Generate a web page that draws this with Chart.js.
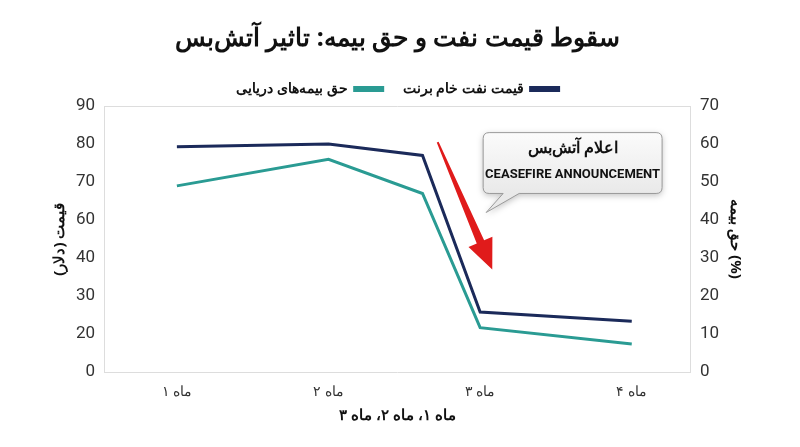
<!DOCTYPE html><html><head><meta charset="utf-8">
<script src="https://cdn.jsdelivr.net/npm/chart.js@4"></script>
<style>body{margin:0;background:#fff}#w{width:800px;height:447px}</style></head><body><div id="w"><canvas id="c"></canvas></div>
<script>
const catPos=[1,2,3,4];
const catLabels=['ماه ۱','ماه ۲','ماه ۳','ماه ۴'];
const xPts=[1,2,2.62,3,4];
const oilPrice=[79.3,80,77,25.8,23.4];
const insurance=[49,56,47,11.7,7.4];
const leftTickLabels=[0,20,30,40,60,70,80,90];
const rightTicks=[0,10,20,30,40,50,60,70];
// left axis labels sit on the same evenly spaced gridlines as the right axis
function leftToPos(v){for(let i=0;i<leftTickLabels.length-1;i++){const a=leftTickLabels[i],b=leftTickLabels[i+1];if(v<=b)return rightTicks[i]+(v-a)/(b-a)*10;}return 70;}
const F="'Liberation Sans Narrow','Roboto',sans-serif";
const callout={id:'callout',afterDatasetsDraw(ch){const c=ch.ctx,x=ch.scales.x,y=ch.scales.y2;c.save();
const x1=x.getPixelForValue(2.72),y1=y.getPixelForValue(60.5),x2=x.getPixelForValue(3.08),y2=y.getPixelForValue(27);
const ang=Math.atan2(y2-y1,x2-x1),n=ang+Math.PI/2;
c.fillStyle='#e01b1b';c.beginPath();
c.moveTo(x1+Math.cos(n)*1,y1+Math.sin(n)*1);c.lineTo(x1-Math.cos(n)*1,y1-Math.sin(n)*1);
const bx=x2-Math.cos(ang)*30,by=y2-Math.sin(ang)*30;
c.lineTo(bx-Math.cos(n)*4,by-Math.sin(n)*4);c.lineTo(bx-Math.cos(n)*13,by-Math.sin(n)*13);c.lineTo(x2,y2);
c.lineTo(bx+Math.cos(n)*13,by+Math.sin(n)*13);c.lineTo(bx+Math.cos(n)*4,by+Math.sin(n)*4);c.closePath();c.fill();
const L=x.getPixelForValue(3.02),R=x.getPixelForValue(4.2),T=y.getPixelForValue(63),B=y.getPixelForValue(47);
c.shadowColor='rgba(0,0,0,0.25)';c.shadowBlur=6;c.shadowOffsetY=2;
const g=c.createLinearGradient(0,T,0,B);g.addColorStop(0,'#fbfbfb');g.addColorStop(1,'#e9e9e9');c.fillStyle=g;c.strokeStyle='#9a9a9a';c.lineWidth=1;
c.beginPath();c.moveTo(L+6,T);c.lineTo(R-6,T);c.quadraticCurveTo(R,T,R,T+6);c.lineTo(R,B-6);c.quadraticCurveTo(R,B,R-6,B);
c.lineTo(L+36,B);c.lineTo(x.getPixelForValue(3.04),y.getPixelForValue(42));c.lineTo(L+20,B);c.lineTo(L+6,B);c.quadraticCurveTo(L,B,L,B-6);c.lineTo(L,T+6);c.quadraticCurveTo(L,T,L+6,T);c.closePath();c.fill();c.shadowColor='transparent';c.stroke();
c.fillStyle='#111';c.textAlign='center';c.textBaseline='middle';c.font="bold 16px 'Noto Sans',sans-serif";c.fillText('اعلام آتش‌بس',(L+R)/2,T+16);
c.font="bold 13px "+F;c.fillText('CEASEFIRE ANNOUNCEMENT',(L+R)/2,T+42);c.restore();}};
new Chart(document.getElementById('c'),{type:'line',
data:{datasets:[
{label:'قیمت نفت خام برنت',data:xPts.map((v,i)=>({x:v,y:leftToPos(oilPrice[i])})),borderColor:'#1b2a5a',backgroundColor:'#1b2a5a',borderWidth:3,pointRadius:0,yAxisID:'y'},
{label:'حق بیمه‌های دریایی',data:xPts.map((v,i)=>({x:v,y:insurance[i]})),borderColor:'#2a9b93',backgroundColor:'#2a9b93',borderWidth:3,pointRadius:0,yAxisID:'y2'}]},
options:{responsive:true,maintainAspectRatio:false,animation:false,layout:{padding:{left:47,right:52,top:0,bottom:18}},
plugins:{title:{display:true,text:'سقوط قیمت نفت و حق بیمه: تاثیر آتش‌بس',font:{family:"'Noto Sans',sans-serif",size:25,weight:'bold'},color:'#111',padding:{top:24,bottom:8}},
legend:{rtl:true,labels:{boxWidth:28,boxHeight:3,color:'#111',font:{family:"'Noto Sans',sans-serif",size:14,weight:'bold'},padding:20}},tooltip:{enabled:false}},
scales:{x:{type:'linear',min:0.52,max:4.39,afterBuildTicks:a=>{a.ticks=catPos.map(v=>({value:v}))},grid:{display:false,drawTicks:true},border:{color:'#ddd'},
ticks:{callback:v=>catLabels[catPos.indexOf(v)],color:'#333',font:{family:"'Noto Sans',sans-serif",size:14}},
title:{display:true,text:'ماه ۱، ماه ۲، ماه ۳',color:'#111',font:{family:"'Noto Sans',sans-serif",size:15,weight:'bold'}}},
y:{position:'left',min:0,max:70,afterBuildTicks:a=>{a.ticks=rightTicks.map(v=>({value:v}))},grid:{display:false,tickLength:6},border:{color:'#ddd'},
ticks:{callback:(v)=>leftTickLabels[rightTicks.indexOf(v)],color:'#333',font:{family:F,size:17}},
title:{display:true,text:'قیمت (دلار)',color:'#111',font:{family:"'Noto Sans',sans-serif",size:15,weight:'bold'}}},
y2:{position:'right',min:0,max:70,afterBuildTicks:a=>{a.ticks=rightTicks.map(v=>({value:v}))},grid:{display:false,tickLength:6},border:{color:'#ddd'},
ticks:{color:'#333',font:{family:F,size:17}},
title:{display:true,text:'حق بیمه (%)',color:'#111',font:{family:"'Noto Sans',sans-serif",size:15,weight:'bold'}}}}},
plugins:[callout,{id:'topline',beforeDatasetsDraw(ch){const a=ch.chartArea,c=ch.ctx;c.save();c.strokeStyle='#ddd';c.lineWidth=1;c.beginPath();c.moveTo(a.left,a.top+0.5);c.lineTo(a.right,a.top+0.5);c.stroke();c.restore();}}]});
</script></body></html>
